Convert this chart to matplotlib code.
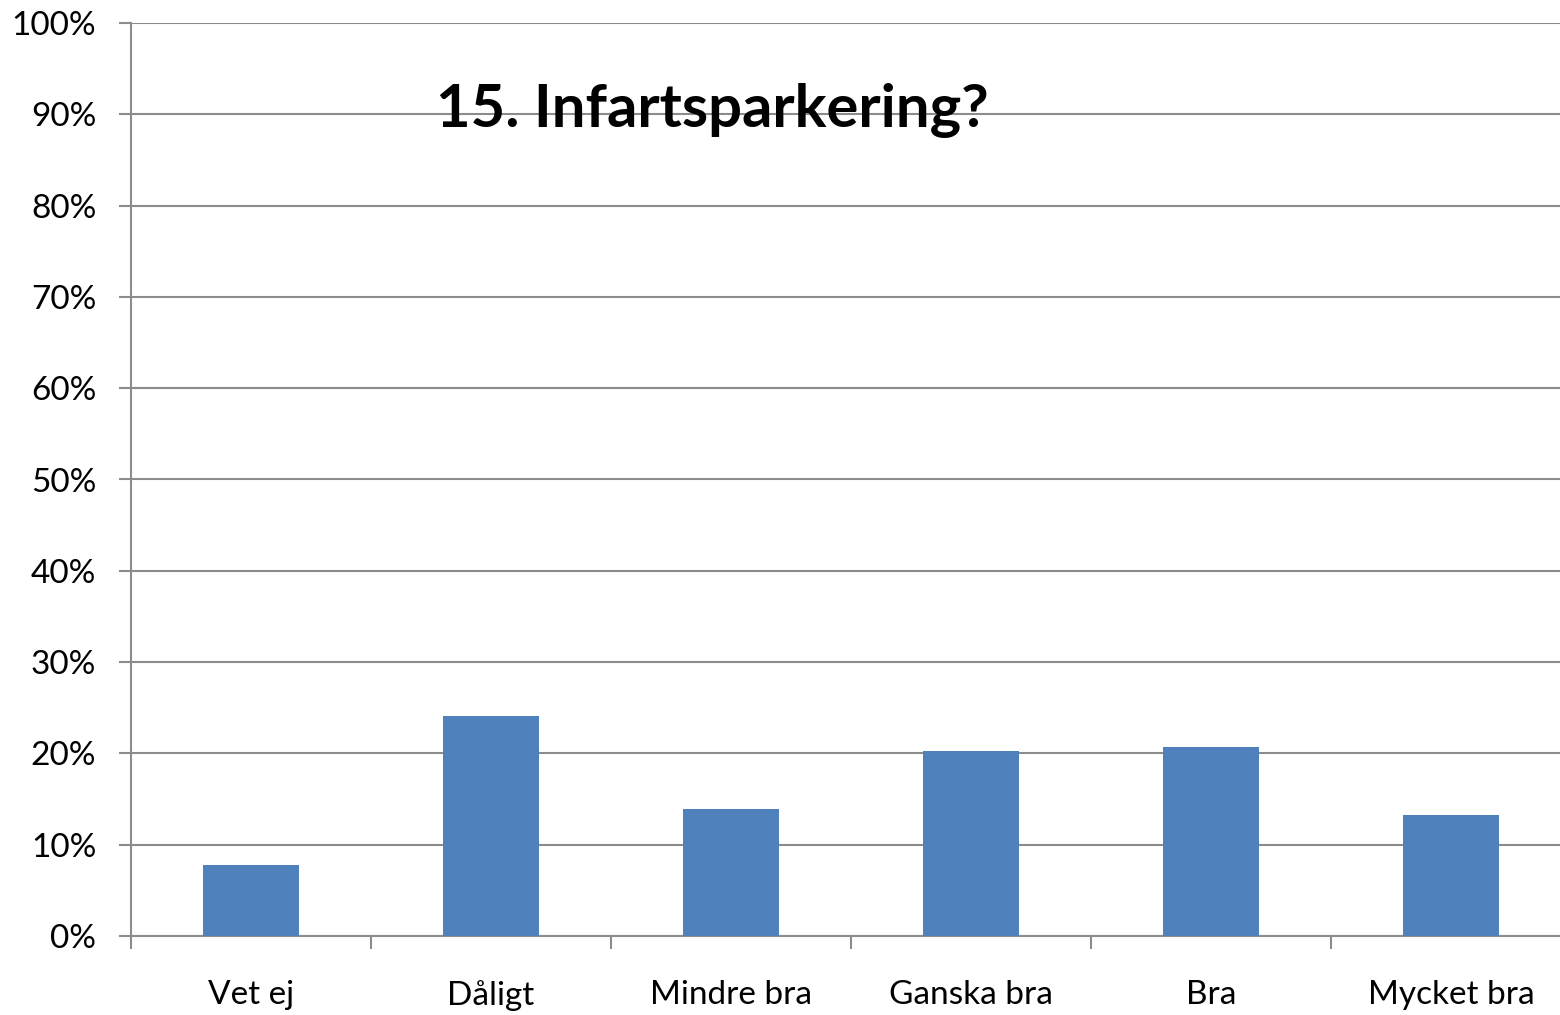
import matplotlib
matplotlib.use("Agg")
import matplotlib.pyplot as plt
from matplotlib.ticker import PercentFormatter

categories = ["Vet ej", "Dåligt", "Mindre bra", "Ganska bra", "Bra", "Mycket bra"]
values = [7.8, 24.1, 13.9, 20.3, 20.7, 13.2]
yticks = [0, 10, 20, 30, 40, 50, 60, 70, 80, 90, 100]
title = "15. Infartsparkering?"

plt.rcParams['font.family'] = ['Lato', 'DejaVu Sans']

W, H = 1560, 1015
fig = plt.figure(figsize=(W / 100, H / 100), dpi=100)
left, right = 131 / W, 1571 / W
bottom, top = 1 - 936 / H, 1 - 23 / H
ax = fig.add_axes([left, bottom, right - left, top - bottom])

grid_c = "#8c8c8c"
x = list(range(len(categories)))
ax.bar(x, values, width=0.4, color="#4f81bd", zorder=3)
ax.set_xlim(-0.5, len(categories) - 0.5)
ax.set_ylim(0, 100)
ax.set_yticks(yticks)
ax.yaxis.set_major_formatter(PercentFormatter(decimals=0))
ax.grid(axis="y", color=grid_c, linewidth=1.5, zorder=0)
ax.set_axisbelow(True)

ax.set_xticks([i + 0.5 for i in range(-1, len(categories))])
ax.set_xticklabels([])
ax.set_xticks(x, minor=True)
ax.set_xticklabels(categories, minor=True)
ax.tick_params(axis="x", which="major", length=9, width=1.5, color=grid_c)
ax.tick_params(axis="x", which="minor", length=0, pad=32, labelsize=24)
ax.tick_params(axis="y", length=9, width=1.5, color=grid_c, labelsize=24, pad=16)

for s in ["top", "right"]:
    ax.spines[s].set_visible(False)
for s in ["left", "bottom"]:
    ax.spines[s].set_color(grid_c)
    ax.spines[s].set_linewidth(1.5)

fig.text(712 / W, 1 - 110 / H, title, ha="center", va="center",
         fontsize=43, fontweight="bold", color="black")

fig.savefig("out.png", dpi=100)
